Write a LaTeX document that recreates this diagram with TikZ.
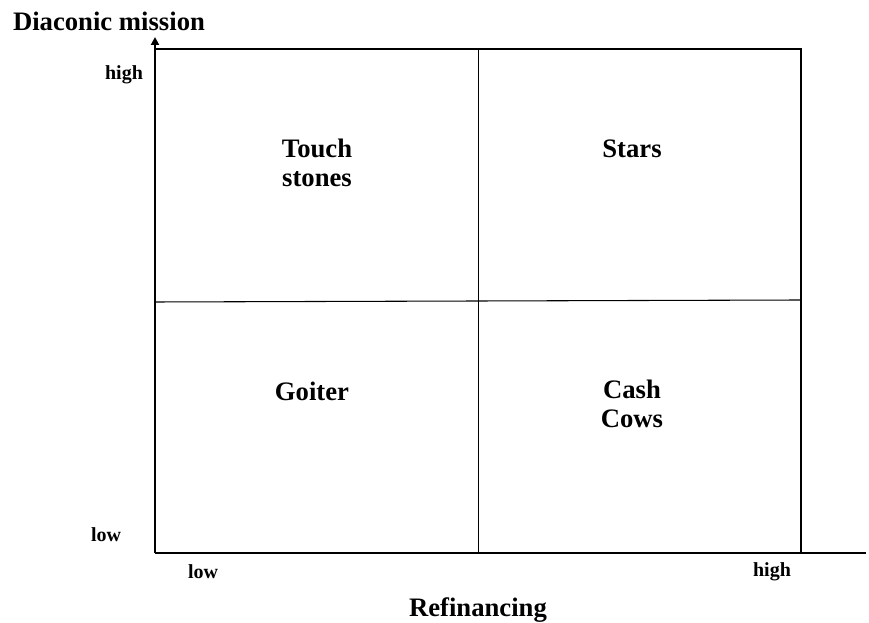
\documentclass[tikz,border=0pt]{standalone}
\usepackage{fontspec}
\setmainfont{Liberation Serif}
\usetikzlibrary{arrows.meta}
\begin{document}
\begin{tikzpicture}[x=0.75pt,y=-0.75pt,
    axisline/.style={line width=1.5pt},
    gridline/.style={line width=0.8pt},
    quadlabel/.style={font=\fontsize{20}{22}\selectfont\bfseries, align=center, inner sep=0pt, anchor=base},
    axislabel/.style={font=\fontsize{20}{22}\selectfont\bfseries, inner sep=0pt, anchor=base},
    ticklabel/.style={font=\fontsize{15}{17}\selectfont\bfseries, inner sep=0pt, anchor=base}]
    \useasboundingbox (0,0) rectangle (869,623);

    % Marking corners of the matrix
    \coordinate (O) at (155,553);
    \coordinate (ytip) at (155,37);
    \coordinate (xend) at (866,553);
    \coordinate (tl) at (155,49);
    \coordinate (tr) at (801,49);
    \coordinate (br) at (801,553);
    \coordinate (mt) at (478.5,49);
    \coordinate (mb) at (478.5,553);
    \coordinate (ml) at (155,302);
    \coordinate (mr) at (801,300);

    % Drawing frame and dividers
    \draw [gridline] (tl) -- (tr) -- (br);
    \draw [gridline] (mt) -- (mb);
    \draw [gridline] (ml) -- (mr);

    % Drawing axes
    \draw [axisline, -{Triangle[width=6pt,length=6pt]}] (O) -- (ytip);
    \draw [axisline] (O) -- (xend);

    % Axis titles
    \node [axislabel] (ytitle) at (109,31) {Diaconic mission};
    \node [axislabel] (xtitle) at (478,617) {Refinancing};

    % Tick labels
    \node [ticklabel] (yhigh) at (124,80) {high};
    \node [ticklabel] (ylow) at (106,542) {low};
    \node [ticklabel] (xlow) at (203,579) {low};
    \node [ticklabel] (xhigh) at (772,577) {high};

    % Quadrant labels (base is the last line)
    \node [quadlabel] (touch) at (317,187) {Touch\\stones};
    \node [quadlabel] (stars) at (632,158) {Stars};
    \node [quadlabel] (goiter) at (312,401) {Goiter};
    \node [quadlabel] (cash) at (632,428) {Cash\\Cows};
\end{tikzpicture}
\end{document}
